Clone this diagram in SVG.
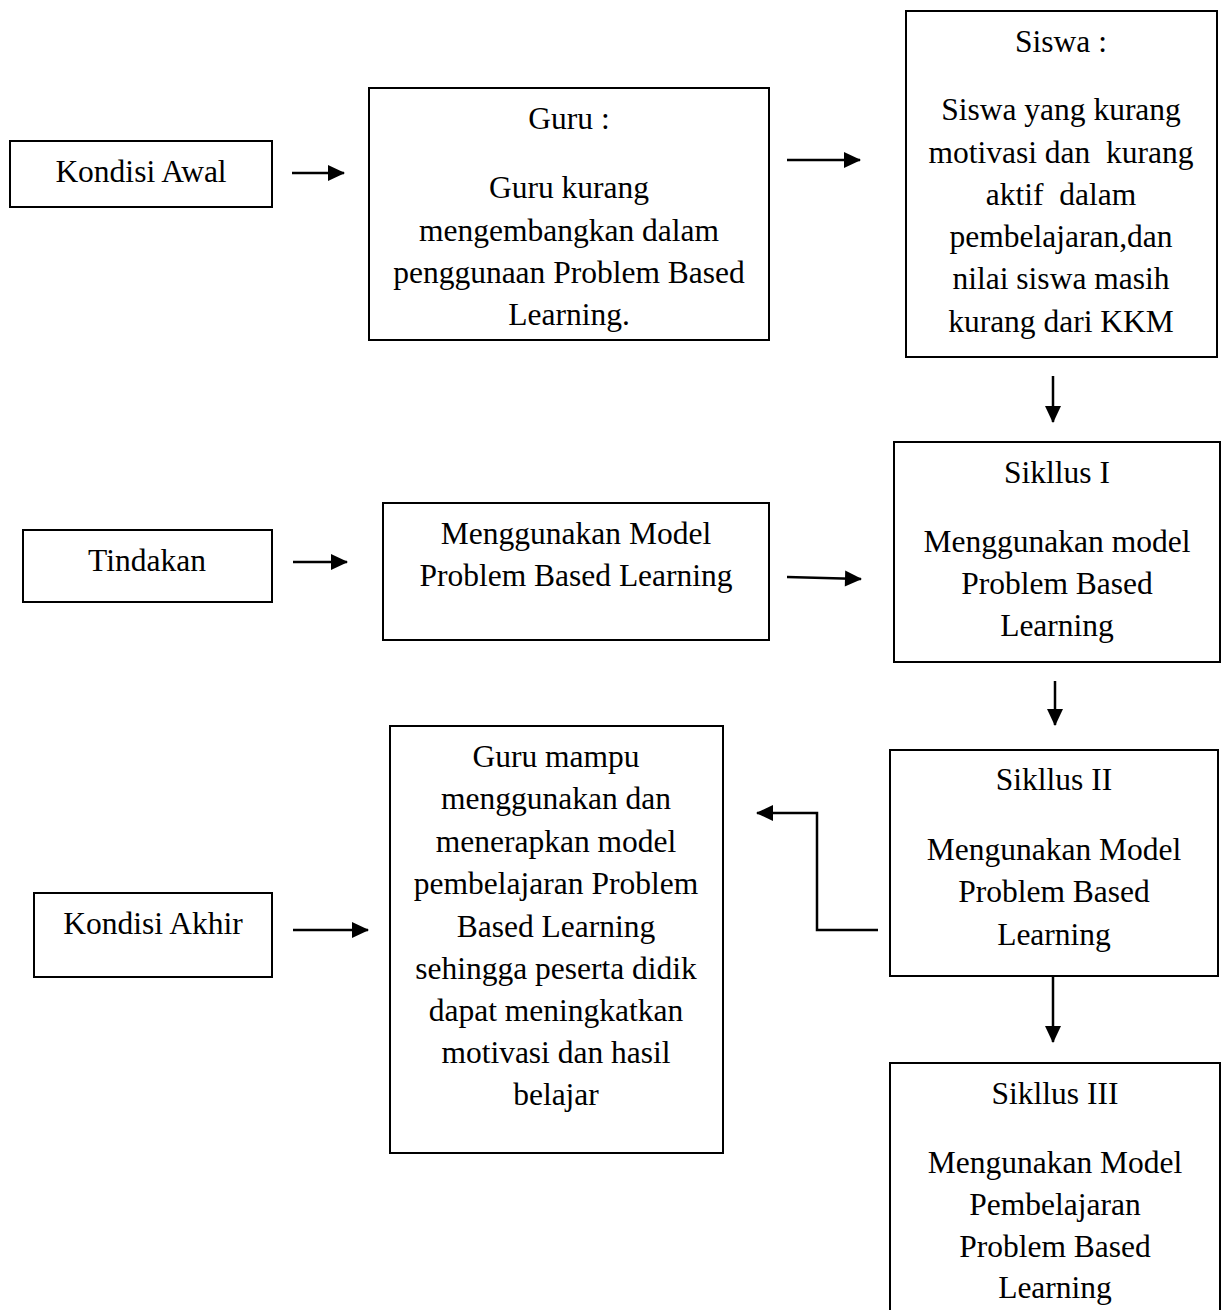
<svg xmlns="http://www.w3.org/2000/svg" width="1225" height="1310" viewBox="0 0 1225 1310">
<defs>
<style>
.box{fill:#fff;stroke:#000;stroke-width:2}
.t{font-family:"Liberation Serif","Times New Roman",serif;font-size:31.5px;fill:#000;text-anchor:middle}
.c{fill:none;stroke:#000;stroke-width:2.5}
</style>
<marker id="ah" markerUnits="userSpaceOnUse" markerWidth="18" markerHeight="16" refX="16" refY="8" orient="auto" overflow="visible">
<path d="M0,0 L17,8 L0,16 Z" fill="#000"/>
</marker>
</defs>
<rect width="1225" height="1310" fill="#fff"/>

<g id="kondisi-awal">
<rect class="box" x="10" y="141" width="262" height="66"/>
<text class="t" x="141" y="182">Kondisi Awal</text>
</g>

<g id="guru">
<rect class="box" x="369" y="88" width="400" height="252"/>
<text class="t" x="569" y="129">Guru :</text>
<text class="t" x="569" y="198">Guru kurang</text>
<text class="t" x="569" y="241">mengembangkan dalam</text>
<text class="t" x="569" y="283">penggunaan Problem Based</text>
<text class="t" x="569" y="325">Learning.</text>
</g>

<g id="siswa">
<rect class="box" x="906" y="11" width="311" height="346"/>
<text class="t" x="1061" y="52">Siswa :</text>
<text class="t" x="1061" y="120">Siswa yang kurang</text>
<text class="t" x="1061" y="163" xml:space="preserve">motivasi dan  kurang</text>
<text class="t" x="1061" y="205" xml:space="preserve">aktif  dalam</text>
<text class="t" x="1061" y="247">pembelajaran,dan</text>
<text class="t" x="1061" y="289">nilai siswa masih</text>
<text class="t" x="1061" y="332">kurang dari KKM</text>
</g>

<g id="tindakan">
<rect class="box" x="23" y="530" width="249" height="72"/>
<text class="t" x="147" y="571">Tindakan</text>
</g>

<g id="menggunakan-model">
<rect class="box" x="383" y="503" width="386" height="137"/>
<text class="t" x="576" y="544">Menggunakan Model</text>
<text class="t" x="576" y="586">Problem Based Learning</text>
</g>

<g id="siklus-1">
<rect class="box" x="894" y="442" width="326" height="220"/>
<text class="t" x="1057" y="483">Sikllus I</text>
<text class="t" x="1057" y="552">Menggunakan model</text>
<text class="t" x="1057" y="594">Problem Based</text>
<text class="t" x="1057" y="636">Learning</text>
</g>

<g id="kondisi-akhir">
<rect class="box" x="34" y="893" width="238" height="84"/>
<text class="t" x="153" y="934">Kondisi Akhir</text>
</g>

<g id="hasil">
<rect class="box" x="390" y="726" width="333" height="427"/>
<text class="t" x="556" y="767">Guru mampu</text>
<text class="t" x="556" y="809">menggunakan dan</text>
<text class="t" x="556" y="852">menerapkan model</text>
<text class="t" x="556" y="894">pembelajaran Problem</text>
<text class="t" x="556" y="937">Based Learning</text>
<text class="t" x="556" y="979">sehingga peserta didik</text>
<text class="t" x="556" y="1021">dapat meningkatkan</text>
<text class="t" x="556" y="1063">motivasi dan hasil</text>
<text class="t" x="556" y="1105">belajar</text>
</g>

<g id="siklus-2">
<rect class="box" x="890" y="750" width="328" height="226"/>
<text class="t" x="1054" y="790">Sikllus II</text>
<text class="t" x="1054" y="860">Mengunakan Model</text>
<text class="t" x="1054" y="902">Problem Based</text>
<text class="t" x="1054" y="945">Learning</text>
</g>

<g id="siklus-3">
<rect class="box" x="890" y="1063" width="330" height="270"/>
<text class="t" x="1055" y="1104">Sikllus III</text>
<text class="t" x="1055" y="1173">Mengunakan Model</text>
<text class="t" x="1055" y="1215">Pembelajaran</text>
<text class="t" x="1055" y="1257">Problem Based</text>
<text class="t" x="1055" y="1298">Learning</text>
</g>

<g id="connectors">
<line class="c" x1="292" y1="173" x2="344" y2="173" marker-end="url(#ah)"/>
<line class="c" x1="787" y1="160" x2="860" y2="160" marker-end="url(#ah)"/>
<line class="c" x1="1053" y1="376" x2="1053" y2="422" marker-end="url(#ah)"/>
<line class="c" x1="293" y1="562" x2="347" y2="562" marker-end="url(#ah)"/>
<line class="c" x1="787" y1="577" x2="861" y2="579" marker-end="url(#ah)"/>
<line class="c" x1="1055" y1="681" x2="1055" y2="725" marker-end="url(#ah)"/>
<polyline class="c" points="878,930 817,930 817,813 757,813" marker-end="url(#ah)"/>
<line class="c" x1="293" y1="930" x2="368" y2="930" marker-end="url(#ah)"/>
<line class="c" x1="1053" y1="976" x2="1053" y2="1042" marker-end="url(#ah)"/>
</g>
</svg>
